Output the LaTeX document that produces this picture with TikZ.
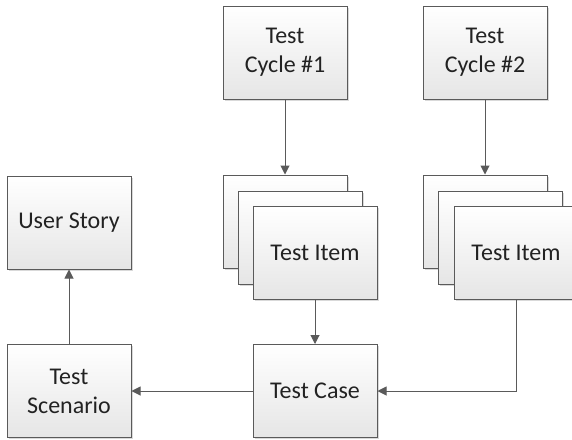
\documentclass[tikz,border=0pt]{standalone}
\usepackage{fontspec}
\setmainfont{Carlito}
\usetikzlibrary{arrows.meta,shadows}
\definecolor{edge}{HTML}{5A5A5A}
\definecolor{txt}{HTML}{222222}
\tikzset{
  box/.style={draw=edge, line width=1pt, top color=white, bottom color=black!10,
    minimum width=124pt, minimum height=93pt, inner sep=0pt, align=center,
    text=txt, font=\fontsize{24}{29}\selectfont,
    drop shadow={shadow xshift=1.5pt, shadow yshift=-1.5pt, opacity=0.25, fill=black!60}},
  link/.style={draw=edge, line width=1pt, -{Triangle[length=9pt,width=9pt]}, color=edge},
}
\begin{document}
\begin{tikzpicture}[x=1pt,y=-1pt]
\useasboundingbox (0,0) rectangle (572,439);
% test cycles
\node[box] (c1) at (285,52.5) {Test\\Cycle \#1};
\node[box] (c2) at (485,52.5) {Test\\Cycle \#2};
% stack 1
\node[box] (s1a) at (285,221.5) {};
\node[box] (s1b) at (300,237.5) {};
\node[box] (s1c) at (315,253) {Test Item};
% stack 2
\node[box] (s2a) at (485,221.5) {};
\node[box] (s2b) at (500,237.5) {};
\node[box] (s2c) at (516,253) {Test Item};
% left column and bottom
\node[box] (us) at (69,222.5) {User Story};
\node[box] (ts) at (69,391) {Test\\Scenario};
\node[box] (tc) at (315,391) {Test Case};
\coordinate (bend) at (516,391);
% connectors
\draw[link] (c1) -- (s1a);
\draw[link] (c2) -- (s2a);
\draw[link] (s1c) -- (tc);
\draw[link] (s2c.south) -- (bend) -- (tc.east);
\draw[link] (tc) -- (ts);
\draw[link] (ts) -- (us);
\end{tikzpicture}
\end{document}
